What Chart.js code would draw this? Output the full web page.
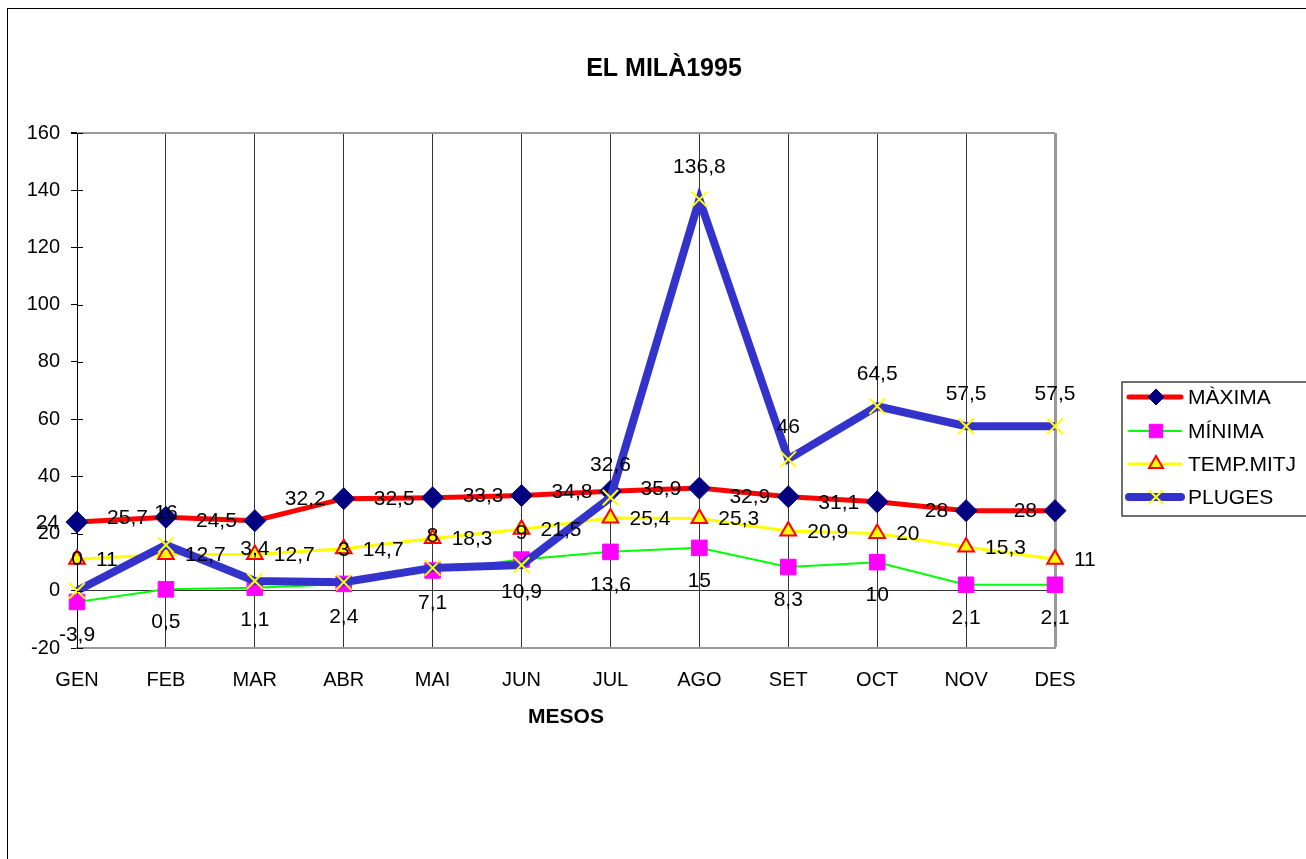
<!DOCTYPE html>
<html>
<head>
<meta charset="utf-8">
<script src="https://cdn.jsdelivr.net/npm/chart.js@4.4.1/dist/chart.umd.min.js"></script>
<style>
html,body{margin:0;padding:0;background:#fff;overflow:hidden}
#wrap{width:1306px;height:859px;position:relative}
canvas{display:block}
</style>
</head>
<body>
<div id="wrap"><canvas id="c" width="1306" height="859"></canvas></div>
<script>
// ---- data ----
const months = ['GEN','FEB','MAR','ABR','MAI','JUN','JUL','AGO','SET','OCT','NOV','DES'];
const maxima = [24, 25.7, 24.5, 32.2, 32.5, 33.3, 34.8, 35.9, 32.9, 31.1, 28, 28];
const minima = [-3.9, 0.5, 1.1, 2.4, 7.1, 10.9, 13.6, 15, 8.3, 10, 2.1, 2.1];
const tempMitj = [11, 12.7, 12.7, 14.7, 18.3, 21.5, 25.4, 25.3, 20.9, 20, 15.3, 11];
const pluges = [0, 16, 3.4, 3, 8, 9, 32.6, 136.8, 46, 64.5, 57.5, 57.5];
const seriesNames = ['MÀXIMA', 'MÍNIMA', 'TEMP.MITJ', 'PLUGES'];
const yMin = -20, yMax = 160, yStep = 20;
const chartTitle = 'EL MILÀ1995';
const xTitle = 'MESOS';

const FONT = "'Liberation Sans', Arial, sans-serif";
const fmt = v => String(v).replace('.', ',');

function drawMarker(ctx, style, x, y, r, fill, stroke, lw) {
  ctx.save();
  ctx.beginPath();
  ctx.lineWidth = lw;
  ctx.fillStyle = fill;
  ctx.strokeStyle = stroke;
  if (style === 'rectRot') {
    ctx.moveTo(x, y - r); ctx.lineTo(x + r, y); ctx.lineTo(x, y + r); ctx.lineTo(x - r, y); ctx.closePath();
    ctx.fill(); ctx.stroke();
  } else if (style === 'rect') {
    const s = r * Math.SQRT1_2;
    ctx.rect(x - s, y - s, 2 * s, 2 * s); ctx.fill(); ctx.stroke();
  } else if (style === 'triangle') {
    ctx.moveTo(x, y - r);
    ctx.lineTo(x + r * Math.sin(Math.PI * 2 / 3), y - r * Math.cos(Math.PI * 2 / 3));
    ctx.lineTo(x - r * Math.sin(Math.PI * 2 / 3), y - r * Math.cos(Math.PI * 2 / 3));
    ctx.closePath(); ctx.fill(); ctx.stroke();
  } else if (style === 'crossRot') {
    const s = r * Math.SQRT1_2;
    ctx.moveTo(x - s, y - s); ctx.lineTo(x + s, y + s);
    ctx.moveTo(x - s, y + s); ctx.lineTo(x + s, y - s);
    ctx.stroke();
  }
  ctx.restore();
}

const framePlugin = {
  id: 'frame',
  beforeDraw(chart) {
    const ctx = chart.ctx;
    ctx.save();
    ctx.fillStyle = '#fff';
    ctx.fillRect(0, 0, chart.width, chart.height);
    ctx.strokeStyle = '#000';
    ctx.lineWidth = 1;
    ctx.strokeRect(7.5, 8.5, 2000, 2000);
    ctx.restore();
  },
  afterDraw(chart) {
    const ctx = chart.ctx;
    ctx.save();
    // title
    ctx.fillStyle = '#000';
    ctx.font = 'bold 25px ' + FONT;
    ctx.textAlign = 'center';
    ctx.textBaseline = 'alphabetic';
    ctx.fillText(chartTitle, 664, 76);
    // inner half of the y tick marks
    const ys = chart.scales.y;
    ctx.strokeStyle = '#000';
    ctx.lineWidth = 1;
    ys.ticks.forEach(t => {
      const py = Math.round(ys.getPixelForValue(t.value)) + 0.5;
      ctx.beginPath();
      ctx.moveTo(ys.right, py);
      ctx.lineTo(ys.right + 6, py);
      ctx.stroke();
    });
    // legend
    const bx = 1122, by = 382, bw = 190, bh = 134;
    ctx.strokeStyle = '#404040';
    ctx.lineWidth = 1.5;
    ctx.strokeRect(bx, by, bw, bh);
    const rowY = [397, 431, 464, 497];
    chart.data.datasets.forEach((ds, i) => {
      const y = rowY[i];
      ctx.save();
      ctx.strokeStyle = ds.borderColor;
      ctx.lineWidth = ds.borderWidth;
      ctx.lineCap = 'round';
      ctx.beginPath();
      ctx.moveTo(1129, y); ctx.lineTo(1181, y);
      ctx.stroke();
      ctx.restore();
      drawMarker(ctx, ds.pointStyle, 1156, y, ds.legendRadius, ds.pointBackgroundColor, ds.pointBorderColor, ds.pointBorderWidth);
      ctx.fillStyle = '#000';
      ctx.font = '21px ' + FONT;
      ctx.textAlign = 'left';
      ctx.textBaseline = 'middle';
      ctx.fillText(ds.label, 1188, y + 1);
    });
    ctx.restore();
  }
};

const labelPlugin = {
  id: 'valueLabels',
  afterDatasetsDraw(chart) {
    const ctx = chart.ctx;
    ctx.save();
    ctx.fillStyle = '#000';
    ctx.font = '21px ' + FONT;
    chart.data.datasets.forEach((ds, i) => {
      const meta = chart.getDatasetMeta(i);
      meta.data.forEach((pt, j) => {
        const txt = fmt(ds.data[j]);
        let x = pt.x, y = pt.y;
        if (ds.labelPos === 'left') { ctx.textAlign = 'right'; ctx.textBaseline = 'middle'; x -= 18; }
        else if (ds.labelPos === 'right') { ctx.textAlign = 'left'; ctx.textBaseline = 'middle'; x += 19; }
        else if (ds.labelPos === 'below') { ctx.textAlign = 'center'; ctx.textBaseline = 'middle'; y += 32; }
        else { ctx.textAlign = 'center'; ctx.textBaseline = 'middle'; y -= 33; }
        ctx.fillText(txt, x, y + 1);
      });
    });
    ctx.restore();
  }
};

new Chart(document.getElementById('c'), {
  type: 'line',
  data: {
    labels: months,
    datasets: [
      { label: seriesNames[0], data: maxima, borderColor: '#FF0000', borderWidth: 5,
        pointStyle: 'rectRot', pointRadius: 11, pointBackgroundColor: '#000080', pointBorderColor: '#000080',
        pointBorderWidth: 1, legendRadius: 8, labelPos: 'left', order: 3, clip: false },
      { label: seriesNames[1], data: minima, borderColor: '#00FF00', borderWidth: 2,
        pointStyle: 'rect', pointRadius: 11, pointBackgroundColor: '#FF00FF', pointBorderColor: '#FF00FF',
        pointBorderWidth: 1, legendRadius: 9.5, labelPos: 'below', order: 2, clip: false },
      { label: seriesNames[2], data: tempMitj, borderColor: '#FFFF00', borderWidth: 3,
        pointStyle: 'triangle', pointRadius: 9, pointBackgroundColor: '#FFFF00', pointBorderColor: '#FF0000',
        pointBorderWidth: 2, legendRadius: 8, labelPos: 'right', order: 1, clip: false },
      { label: seriesNames[3], data: pluges, borderColor: '#3333CC', borderWidth: 8,
        pointStyle: 'crossRot', pointRadius: 11, pointBackgroundColor: '#FFFF00', pointBorderColor: '#FFFF00',
        pointBorderWidth: 2, legendRadius: 10, labelPos: 'above', order: 0, clip: false }
    ]
  },
  options: {
    responsive: false,
    animation: false,
    devicePixelRatio: 1,
    events: [],
    layout: { padding: { top: 133, right: 251, bottom: 129, left: 0 } },
    elements: { line: { tension: 0 } },
    plugins: { legend: { display: false }, title: { display: false }, tooltip: { enabled: false } },
    scales: {
      x: {
        offset: false,
        afterFit(s) { s.height = 82; },
        grid: {
          drawTicks: false,
          color: c => c.index === 11 ? '#999999' : '#333333',
          lineWidth: c => c.index === 11 ? 3 : 1
        },
        border: { color: '#999999', width: 2 },
        ticks: { color: '#000', font: { family: FONT, size: 20 }, padding: 20, maxRotation: 0, autoSkip: false },
        title: { display: true, text: xTitle, color: '#000', font: { family: FONT, size: 21, weight: 'bold' }, padding: { top: 0, bottom: 0 } }
      },
      y: {
        min: yMin, max: yMax,
        afterFit(s) { s.width = 77; },
        grid: {
          color: c => c.tick.value === 0 ? '#333333' : (c.tick.value === yMax ? '#999999' : 'rgba(0,0,0,0)'),
          lineWidth: c => c.tick.value === yMax ? 2 : 1,
          tickColor: '#000',
          tickLength: 6
        },
        border: { color: '#000', width: 1 },
        ticks: { stepSize: yStep, color: '#000', font: { family: FONT, size: 20 }, padding: 11 }
      }
    }
  },
  plugins: [framePlugin, labelPlugin]
});
</script>
</body>
</html>
